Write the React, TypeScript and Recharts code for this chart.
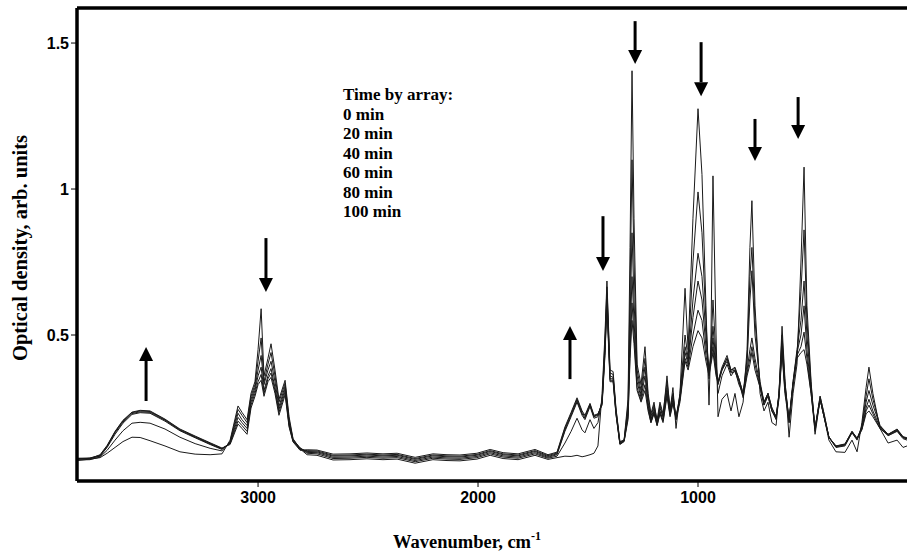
import { LineChart, Line, XAxis, YAxis, ReferenceLine, Legend, Label } from "recharts";

// IR spectra of the sample (wavenumber in cm^-1)
const wavenumber = [
  3823, 3764, 3718, 3686, 3650, 3614, 3573, 3536, 3491, 3423,
  3355, 3286, 3218, 3164, 3127, 3091, 3073, 3050, 3032, 3014,
  3000, 2986, 2973, 2955, 2941, 2923, 2905, 2877, 2859, 2841,
  2809, 2777, 2732, 2659, 2582, 2505, 2432, 2368, 2286, 2205,
  2141, 2082, 2005, 1945, 1886, 1818, 1741, 1682, 1641, 1605,
  1577, 1550, 1527, 1514, 1491, 1473, 1455, 1436, 1423, 1414,
  1400, 1386, 1373, 1355, 1336, 1318, 1309, 1300, 1291, 1277,
  1259, 1241, 1227, 1214, 1200, 1186, 1173, 1159, 1141, 1127,
  1114, 1100, 1082, 1059, 1045, 1023, 1000, 982, 964, 950,
  941, 932, 918, 909, 891, 868, 850, 832, 814, 795,
  777, 764, 755, 741, 718, 700, 682, 664, 645, 632,
  618, 605, 586, 568, 550, 532, 518, 505, 486, 468,
  445, 427, 405, 373, 332, 300, 277, 255, 236, 223,
  205, 173, 136, 95, 68, 50,
];

const od0 = [
  0.07, 0.075, 0.08, 0.095, 0.115, 0.135, 0.15, 0.149, 0.138, 0.12,
  0.1, 0.092, 0.09, 0.093, 0.14, 0.257, 0.235, 0.21, 0.3, 0.34,
  0.45, 0.59, 0.36, 0.42, 0.47, 0.38, 0.28, 0.345, 0.22, 0.145,
  0.11, 0.09, 0.088, 0.072, 0.073, 0.076, 0.073, 0.075, 0.061, 0.073,
  0.07, 0.069, 0.075, 0.088, 0.077, 0.073, 0.088, 0.074, 0.08, 0.085,
  0.084, 0.088, 0.083, 0.085, 0.09, 0.095, 0.12, 0.3, 0.5, 0.685,
  0.38, 0.375, 0.25, 0.135, 0.14, 0.28, 0.8, 1.405, 0.9, 0.4,
  0.33, 0.46, 0.3, 0.23, 0.27, 0.2, 0.26, 0.22, 0.36, 0.24,
  0.32, 0.18, 0.3, 0.66, 0.45, 0.9, 1.275, 1.05, 0.6, 0.26,
  0.5, 1.045, 0.5, 0.22, 0.28, 0.3, 0.24, 0.3, 0.22, 0.27,
  0.45, 0.8, 0.96, 0.6, 0.3, 0.24, 0.27, 0.2, 0.19, 0.3,
  0.53, 0.35, 0.15, 0.3, 0.4, 0.75, 1.075, 0.6, 0.34, 0.16,
  0.28, 0.22, 0.14, 0.1, 0.098, 0.14, 0.1, 0.2, 0.32, 0.39,
  0.3, 0.18, 0.13, 0.14, 0.115, 0.12,
];

const od20 = [
  0.072, 0.073, 0.082, 0.105, 0.14, 0.172, 0.198, 0.201, 0.198, 0.178,
  0.15, 0.128, 0.112, 0.103, 0.135, 0.245, 0.225, 0.2, 0.29, 0.33,
  0.41, 0.49, 0.34, 0.4, 0.44, 0.36, 0.27, 0.335, 0.21, 0.143,
  0.112, 0.095, 0.093, 0.077, 0.078, 0.081, 0.078, 0.08, 0.066, 0.078,
  0.075, 0.074, 0.08, 0.093, 0.082, 0.078, 0.093, 0.078, 0.085, 0.13,
  0.17, 0.215, 0.175, 0.165, 0.21, 0.18, 0.2, 0.28, 0.48, 0.665,
  0.37, 0.365, 0.245, 0.133, 0.14, 0.26, 0.65, 1.1, 0.75, 0.38,
  0.31, 0.42, 0.29, 0.22, 0.26, 0.21, 0.27, 0.23, 0.34, 0.25,
  0.3, 0.21, 0.3, 0.5, 0.42, 0.75, 0.99, 0.85, 0.55, 0.35,
  0.45, 0.62, 0.42, 0.3, 0.36, 0.4, 0.36, 0.38, 0.33, 0.3,
  0.42, 0.7, 0.8, 0.55, 0.33, 0.26, 0.3, 0.24, 0.21, 0.3,
  0.5, 0.34, 0.2, 0.33, 0.43, 0.65, 0.86, 0.55, 0.33, 0.18,
  0.29, 0.23, 0.15, 0.115, 0.12, 0.165, 0.14, 0.19, 0.29, 0.35,
  0.28, 0.19, 0.155, 0.17, 0.145, 0.14,
];

const od40 = [
  0.074, 0.078, 0.085, 0.115, 0.16, 0.198, 0.228, 0.234, 0.232, 0.205,
  0.172, 0.148, 0.125, 0.108, 0.132, 0.232, 0.21, 0.19, 0.28, 0.32,
  0.38, 0.43, 0.33, 0.38, 0.41, 0.34, 0.255, 0.325, 0.2, 0.14,
  0.114, 0.098, 0.097, 0.081, 0.082, 0.085, 0.082, 0.084, 0.07, 0.082,
  0.079, 0.078, 0.084, 0.097, 0.086, 0.082, 0.097, 0.081, 0.09, 0.17,
  0.22, 0.27, 0.225, 0.21, 0.255, 0.215, 0.22, 0.27, 0.46, 0.645,
  0.36, 0.355, 0.24, 0.13, 0.138, 0.24, 0.55, 0.85, 0.62, 0.36,
  0.295, 0.39, 0.27, 0.21, 0.25, 0.2, 0.25, 0.22, 0.32, 0.24,
  0.29, 0.22, 0.29, 0.46, 0.41, 0.62, 0.78, 0.7, 0.5, 0.38,
  0.43, 0.53, 0.4, 0.33, 0.38, 0.42, 0.38, 0.39, 0.35, 0.3,
  0.4, 0.62, 0.72, 0.5, 0.34, 0.27, 0.3, 0.25, 0.22, 0.3,
  0.48, 0.33, 0.21, 0.34, 0.45, 0.55, 0.685, 0.5, 0.32, 0.18,
  0.29, 0.23, 0.15, 0.12, 0.125, 0.17, 0.145, 0.185, 0.27, 0.31,
  0.26, 0.19, 0.16, 0.175, 0.15, 0.145,
];

const od60 = [
  0.075, 0.076, 0.086, 0.118, 0.165, 0.202, 0.231, 0.237, 0.235, 0.208,
  0.174, 0.15, 0.127, 0.11, 0.13, 0.218, 0.2, 0.18, 0.27, 0.31,
  0.36, 0.39, 0.31, 0.36, 0.385, 0.32, 0.245, 0.315, 0.195, 0.138,
  0.11, 0.101, 0.1, 0.085, 0.086, 0.089, 0.086, 0.088, 0.074, 0.086,
  0.083, 0.082, 0.088, 0.101, 0.09, 0.086, 0.101, 0.084, 0.093, 0.175,
  0.225, 0.275, 0.23, 0.215, 0.26, 0.22, 0.225, 0.27, 0.45, 0.63,
  0.35, 0.35, 0.235, 0.128, 0.137, 0.23, 0.48, 0.7, 0.55, 0.34,
  0.285, 0.36, 0.26, 0.205, 0.24, 0.195, 0.24, 0.21, 0.31, 0.23,
  0.28, 0.22, 0.28, 0.44, 0.4, 0.56, 0.685, 0.62, 0.46, 0.38,
  0.42, 0.49, 0.38, 0.34, 0.39, 0.43, 0.38, 0.385, 0.35, 0.3,
  0.38, 0.45, 0.49, 0.42, 0.33, 0.27, 0.3, 0.25, 0.22, 0.29,
  0.46, 0.32, 0.21, 0.34, 0.44, 0.5, 0.6, 0.45, 0.31, 0.18,
  0.28, 0.22, 0.15, 0.12, 0.127, 0.17, 0.147, 0.18, 0.25, 0.28,
  0.24, 0.185, 0.16, 0.178, 0.152, 0.148,
];

const od80 = [
  0.077, 0.079, 0.088, 0.12, 0.168, 0.206, 0.234, 0.24, 0.238, 0.21,
  0.176, 0.152, 0.129, 0.111, 0.128, 0.205, 0.19, 0.17, 0.26, 0.3,
  0.34, 0.365, 0.3, 0.35, 0.37, 0.31, 0.235, 0.305, 0.19, 0.136,
  0.108, 0.104, 0.103, 0.088, 0.089, 0.092, 0.089, 0.091, 0.077, 0.089,
  0.086, 0.085, 0.091, 0.104, 0.093, 0.089, 0.104, 0.087, 0.096, 0.18,
  0.23, 0.28, 0.235, 0.22, 0.263, 0.222, 0.228, 0.265, 0.44, 0.615,
  0.345, 0.345, 0.23, 0.127, 0.136, 0.22, 0.44, 0.61, 0.5, 0.32,
  0.275, 0.33, 0.25, 0.2, 0.235, 0.19, 0.235, 0.205, 0.3, 0.225,
  0.27, 0.215, 0.28, 0.42, 0.39, 0.5, 0.585, 0.55, 0.43, 0.37,
  0.41, 0.46, 0.37, 0.34, 0.385, 0.42, 0.375, 0.38, 0.345, 0.29,
  0.37, 0.42, 0.46, 0.4, 0.32, 0.27, 0.29, 0.24, 0.22, 0.29,
  0.45, 0.31, 0.21, 0.33, 0.43, 0.46, 0.51, 0.42, 0.3, 0.18,
  0.28, 0.22, 0.15, 0.118, 0.125, 0.168, 0.145, 0.178, 0.24, 0.26,
  0.23, 0.18, 0.158, 0.175, 0.15, 0.146,
];

const od100 = [
  0.078, 0.077, 0.09, 0.122, 0.17, 0.208, 0.236, 0.242, 0.24, 0.212,
  0.178, 0.154, 0.131, 0.113, 0.125, 0.195, 0.18, 0.16, 0.25, 0.29,
  0.33, 0.345, 0.29, 0.34, 0.355, 0.3, 0.225, 0.295, 0.185, 0.134,
  0.105, 0.107, 0.106, 0.092, 0.093, 0.096, 0.093, 0.095, 0.081, 0.093,
  0.09, 0.089, 0.095, 0.108, 0.097, 0.093, 0.108, 0.09, 0.099, 0.185,
  0.235, 0.285, 0.24, 0.225, 0.266, 0.225, 0.23, 0.26, 0.43, 0.6,
  0.34, 0.34, 0.228, 0.125, 0.135, 0.21, 0.42, 0.55, 0.47, 0.31,
  0.27, 0.31, 0.24, 0.2, 0.23, 0.19, 0.23, 0.2, 0.29, 0.22,
  0.265, 0.21, 0.27, 0.41, 0.38, 0.46, 0.515, 0.49, 0.41, 0.36,
  0.4, 0.44, 0.36, 0.335, 0.38, 0.41, 0.37, 0.375, 0.34, 0.285,
  0.36, 0.4, 0.44, 0.38, 0.32, 0.26, 0.29, 0.24, 0.215, 0.28,
  0.44, 0.3, 0.2, 0.33, 0.42, 0.44, 0.45, 0.4, 0.3, 0.17,
  0.28, 0.22, 0.15, 0.116, 0.123, 0.166, 0.143, 0.175, 0.23, 0.24,
  0.22, 0.18, 0.156, 0.172, 0.148, 0.144,
];

const timeLabels = ["0 min", "20 min", "40 min", "60 min", "80 min", "100 min"];
const seriesValues = [od0, od20, od40, od60, od80, od100];

const xTicks = [3000, 2000, 1000];
const yTicks = [0.5, 1, 1.5];

// arrows: position (cm^-1), tail value, head value
const arrowX = [3509, 2964, 1582, 1432, 1286, 986, 741, 545];
const arrowFrom = [0.274, 0.832, 0.349, 0.907, 1.575, 1.503, 1.24, 1.315];
const arrowTo = [0.459, 0.647, 0.531, 0.719, 1.428, 1.318, 1.096, 1.171];

const data = wavenumber.map((w, i) => {
  const row: Record<string, number> = { w };
  seriesValues.forEach((s, k) => {
    row["s" + k] = s[i];
  });
  return row;
});

const SERIF = '"Liberation Serif", "Times New Roman", serif';
const SANS = '"Liberation Sans", Arial, sans-serif';

function Arrow(props: any) {
  const { x1, y1, x2, y2 } = props;
  const dir = y2 > y1 ? 1 : -1;
  const baseY = y2 - dir * 14;
  return (
    <g>
      <line x1={x1} y1={y1} x2={x1} y2={baseY} stroke="#000" strokeWidth={3} />
      <polygon points={`${x2 - 7},${baseY} ${x2 + 7},${baseY} ${x2},${y2}`} fill="#000" />
    </g>
  );
}

function TimeLegend() {
  return (
    <div style={{ fontFamily: SERIF, fontWeight: "bold", fontSize: 17, lineHeight: "19.5px", color: "#000" }}>
      <div>Time by array:</div>
      {timeLabels.map((t) => (
        <div key={t}>{t}</div>
      ))}
    </div>
  );
}

export default function App() {
  return (
    <div style={{ position: "fixed", left: 0, top: 0, width: 907, height: 558, overflow: "hidden", background: "#fff" }}>
      <LineChart width={907} height={558} data={data} margin={{ top: 8, right: 0, bottom: 0, left: 0 }}>
        <XAxis
          dataKey="w"
          type="number"
          domain={[50, 3823]}
          reversed
          allowDataOverflow
          ticks={xTicks}
          interval={0}
          height={77}
          axisLine={{ stroke: "#000", strokeWidth: 3.5 }}
          tickLine={{ stroke: "#000", strokeWidth: 1 }}
          tickSize={6}
          tickMargin={5}
          tick={{ fontFamily: SANS, fontWeight: "bold", fontSize: 16, fill: "#000" }}
        >
          <Label
            content={() => (
              <text x={467} y={548} textAnchor="middle" fontFamily={SERIF} fontWeight="bold" fontSize={18.5} fill="#000">
                Wavenumber, cm
                <tspan dy={-8} fontSize={12}>-1</tspan>
              </text>
            )}
          />
        </XAxis>
        <YAxis
          type="number"
          domain={[0, 1.62]}
          allowDataOverflow
          ticks={yTicks}
          interval={0}
          width={77}
          axisLine={{ stroke: "#000", strokeWidth: 3.5 }}
          tickLine={{ stroke: "#000", strokeWidth: 1 }}
          tickSize={6}
          tickMargin={2}
          tickFormatter={(v: number) => String(v)}
          tick={{ fontFamily: SANS, fontWeight: "bold", fontSize: 16, fill: "#000" }}
        >
          <Label
            content={() => (
              <text
                x={20}
                y={248}
                transform="rotate(-90 20 248)"
                textAnchor="middle"
                dominantBaseline="central"
                fontFamily={SERIF}
                fontWeight="bold"
                fontSize={20.5}
                fill="#000"
              >
                Optical density, arb. units
              </text>
            )}
          />
        </YAxis>
        <ReferenceLine y={1.62} stroke="#000" strokeWidth={3.5} />
        {seriesValues.map((_, k) => (
          <Line
            key={k}
            type="linear"
            dataKey={"s" + k}
            name={timeLabels[k]}
            stroke="#1a1a1a"
            strokeWidth={1}
            dot={false}
            isAnimationActive={false}
          />
        ))}
        {arrowX.map((x, i) => (
          <ReferenceLine
            key={"a" + i}
            segment={[
              { x, y: arrowFrom[i] },
              { x, y: arrowTo[i] },
            ]}
            shape={(p: any) => <Arrow {...p} />}
          />
        ))}
        <Legend
          layout="vertical"
          align="center"
          verticalAlign="middle"
          wrapperStyle={{ left: 343, top: 85, width: "auto" }}
          content={() => <TimeLegend />}
        />
      </LineChart>
    </div>
  );
}
